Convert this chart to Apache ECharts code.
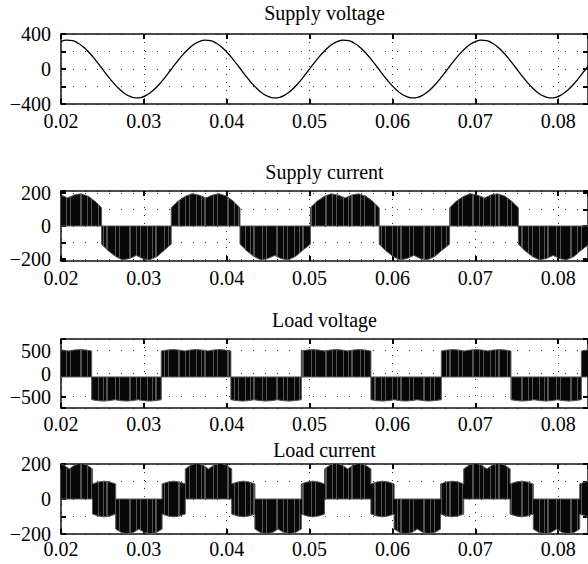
<!DOCTYPE html>
<html lang="en">
<head>
<meta charset="UTF-8">
<title>Supply and load waveforms</title>
<script src="https://cdn.jsdelivr.net/npm/echarts@6/dist/echarts.min.js"></script>
<style>html,body{margin:0;padding:0;background:#fff;}</style>
</head>
<body>
<div id="main" style="width:588px;height:564px;"></div>
<script type="text/javascript">
// x range of every panel (time, s)
var tMin = 0.02, tMax = 0.0836;

// supply voltage, sampled every 1/1440 s from t = 0.02
var vStep = 1 / 1440;
var supplyVoltage = [314, 330, 323, 294, 245, 180, 102, 17, -69, -150, -221, -277, -314, -330, -323, -294, -245, -180, -102, -17, 69, 150, 221, 277,
    314, 330, 323, 294, 245, 180, 102, 17, -69, -150, -221, -277, -314, -330, -323, -294, -245, -180, -102, -17, 69, 150, 221, 277,
    314, 330, 323, 294, 245, 180, 102, 17, -69, -150, -221, -277, -314, -330, -323, -294, -245, -180, -102, -17, 69, 150, 221, 277,
    314, 330, 323, 294, 245, 180, 102, 17, -69, -150, -221, -277, -314, -330, -323, -294, -245, -180, -102, -17, 69];

// supply current envelope: positive part and negative part  [t, A]
var supplyCurrentPos = [
    [0.0200, 188], [0.0208, 170], [0.0216, 188], [0.0224, 195], [0.0233, 180], [0.0241, 150], [0.0249, 110], [0.0249, 0],
    [0.0333, 0], [0.0333, 110], [0.0341, 150], [0.0350, 180], [0.0358, 195], [0.0366, 188], [0.0375, 170], [0.0383, 188], [0.0391, 195], [0.0400, 180], [0.0408, 150], [0.0416, 110], [0.0416, 0],
    [0.0501, 0], [0.0501, 110], [0.0509, 150], [0.0518, 180], [0.0526, 195], [0.0534, 188], [0.0543, 170], [0.0551, 188], [0.0559, 195], [0.0568, 180], [0.0576, 150], [0.0584, 110], [0.0584, 0],
    [0.0669, 0], [0.0669, 110], [0.0677, 150], [0.0686, 180], [0.0694, 195], [0.0702, 188], [0.0711, 170], [0.0719, 188], [0.0727, 195], [0.0736, 180], [0.0744, 150], [0.0752, 110], [0.0752, 0],
    [0.0836, 0]
];
var supplyCurrentNeg = [
    [0.0200, 0], [0.0249, 0], [0.0249, -110], [0.0257, -150], [0.0266, -185], [0.0274, -205], [0.0282, -198], [0.0291, -178], [0.0299, -198], [0.0307, -205], [0.0316, -185], [0.0324, -150], [0.0333, -110], [0.0333, 0],
    [0.0416, 0], [0.0416, -110], [0.0424, -150], [0.0433, -185], [0.0441, -205], [0.0449, -198], [0.0458, -178], [0.0466, -198], [0.0474, -205], [0.0483, -185], [0.0491, -150], [0.0501, -110], [0.0501, 0],
    [0.0584, 0], [0.0584, -110], [0.0592, -150], [0.0601, -185], [0.0609, -205], [0.0617, -198], [0.0626, -178], [0.0634, -198], [0.0642, -205], [0.0651, -185], [0.0659, -150], [0.0669, -110], [0.0669, 0],
    [0.0752, 0], [0.0752, -110], [0.0760, -150], [0.0769, -185], [0.0777, -205], [0.0785, -198], [0.0794, -178], [0.0802, -198], [0.0810, -205], [0.0819, -185], [0.0827, -150], [0.0836, -115]
];

// load voltage envelope [t, V]; the blocks switch about a base of -75 V
var loadVoltageBase = -75;
var loadVoltagePos = [
    [0.0200, 515], [0.0202, 510], [0.0209, 490], [0.0216, 510], [0.0223, 520], [0.0230, 510], [0.0237, 490], [0.0237, -75],
    [0.0321, -75], [0.0321, 490], [0.0328, 510], [0.0335, 520], [0.0342, 510], [0.0349, 490], [0.0356, 510], [0.0363, 520], [0.0370, 510], [0.0377, 490], [0.0384, 510], [0.0391, 520], [0.0398, 510], [0.0405, 490], [0.0405, -75],
    [0.0490, -75], [0.0490, 490], [0.0497, 510], [0.0504, 520], [0.0511, 510], [0.0518, 490], [0.0525, 510], [0.0532, 520], [0.0539, 510], [0.0546, 490], [0.0553, 510], [0.0560, 520], [0.0567, 510], [0.0574, 490], [0.0574, -75],
    [0.0659, -75], [0.0659, 490], [0.0666, 510], [0.0673, 520], [0.0680, 510], [0.0687, 490], [0.0694, 510], [0.0701, 520], [0.0708, 510], [0.0715, 490], [0.0722, 510], [0.0729, 520], [0.0736, 510], [0.0743, 490], [0.0743, -75],
    [0.0828, -75], [0.0828, 490], [0.0835, 510], [0.0842, 520]
];
var loadVoltageNeg = [
    [0.0200, -75], [0.0237, -75], [0.0237, -570], [0.0244, -590], [0.0251, -600], [0.0258, -590], [0.0265, -570], [0.0272, -590], [0.0279, -600], [0.0286, -590], [0.0293, -570], [0.0300, -590], [0.0307, -600], [0.0314, -590], [0.0321, -570], [0.0321, -75],
    [0.0405, -75], [0.0405, -570], [0.0412, -590], [0.0419, -600], [0.0426, -590], [0.0433, -570], [0.0440, -590], [0.0447, -600], [0.0454, -590], [0.0461, -570], [0.0468, -590], [0.0475, -600], [0.0482, -590], [0.0490, -570], [0.0490, -75],
    [0.0574, -75], [0.0574, -570], [0.0581, -590], [0.0588, -600], [0.0595, -590], [0.0602, -570], [0.0609, -590], [0.0616, -600], [0.0623, -590], [0.0630, -570], [0.0637, -590], [0.0644, -600], [0.0651, -590], [0.0659, -570], [0.0659, -75],
    [0.0743, -75], [0.0743, -570], [0.0750, -590], [0.0757, -600], [0.0764, -590], [0.0771, -570], [0.0778, -590], [0.0785, -600], [0.0792, -590], [0.0799, -570], [0.0806, -590], [0.0813, -600], [0.0820, -590], [0.0828, -570], [0.0828, -75],
    [0.0836, -75]
];

// load current envelope [t, A]
var loadCurrentPos = [
    [0.0200, 200], [0.0203, 195], [0.0210, 172], [0.0217, 195], [0.0224, 205], [0.0231, 195], [0.0238, 172],
    [0.0238, 86], [0.0245, 97], [0.0252, 102], [0.0259, 97], [0.0266, 86], [0.0266, 0],
    [0.0322, 0], [0.0322, 86], [0.0329, 97], [0.0336, 102], [0.0343, 97], [0.0350, 86],
    [0.0350, 172], [0.0357, 195], [0.0364, 205], [0.0371, 195], [0.0378, 172], [0.0385, 195], [0.0392, 205], [0.0399, 195], [0.0406, 172],
    [0.0406, 86], [0.0413, 97], [0.0420, 102], [0.0427, 97], [0.0434, 86], [0.0434, 0],
    [0.0490, 0], [0.0490, 86], [0.0497, 97], [0.0504, 102], [0.0511, 97], [0.0518, 86],
    [0.0518, 172], [0.0525, 195], [0.0532, 205], [0.0539, 195], [0.0546, 172], [0.0553, 195], [0.0560, 205], [0.0567, 195], [0.0574, 172],
    [0.0574, 86], [0.0581, 97], [0.0588, 102], [0.0595, 97], [0.0602, 86], [0.0602, 0],
    [0.0658, 0], [0.0658, 86], [0.0665, 97], [0.0672, 102], [0.0679, 97], [0.0686, 86],
    [0.0686, 172], [0.0693, 195], [0.0700, 205], [0.0707, 195], [0.0714, 172], [0.0721, 195], [0.0728, 205], [0.0735, 195], [0.0742, 172],
    [0.0742, 86], [0.0749, 97], [0.0756, 102], [0.0763, 97], [0.0770, 86], [0.0770, 0],
    [0.0826, 0], [0.0826, 86], [0.0833, 97], [0.0840, 102]
];
var loadCurrentNeg = [
    [0.0200, 0], [0.0238, 0], [0.0238, -86], [0.0245, -97], [0.0252, -102], [0.0259, -97], [0.0266, -86],
    [0.0266, -172], [0.0273, -192], [0.0280, -198], [0.0287, -192], [0.0294, -172], [0.0301, -192], [0.0308, -198], [0.0315, -192], [0.0322, -172],
    [0.0322, -86], [0.0329, -97], [0.0336, -102], [0.0343, -97], [0.0350, -86], [0.0350, 0],
    [0.0406, 0], [0.0406, -86], [0.0413, -97], [0.0420, -102], [0.0427, -97], [0.0434, -86],
    [0.0434, -172], [0.0441, -192], [0.0448, -198], [0.0455, -192], [0.0462, -172], [0.0469, -192], [0.0476, -198], [0.0483, -192], [0.0490, -172],
    [0.0490, -86], [0.0497, -97], [0.0504, -102], [0.0511, -97], [0.0518, -86], [0.0518, 0],
    [0.0574, 0], [0.0574, -86], [0.0581, -97], [0.0588, -102], [0.0595, -97], [0.0602, -86],
    [0.0602, -172], [0.0609, -192], [0.0616, -198], [0.0623, -192], [0.0630, -172], [0.0637, -192], [0.0644, -198], [0.0651, -192], [0.0658, -172],
    [0.0658, -86], [0.0665, -97], [0.0672, -102], [0.0679, -97], [0.0686, -86], [0.0686, 0],
    [0.0742, 0], [0.0742, -86], [0.0749, -97], [0.0756, -102], [0.0763, -97], [0.0770, -86],
    [0.0770, -172], [0.0777, -192], [0.0784, -198], [0.0791, -192], [0.0798, -172], [0.0805, -192], [0.0812, -198], [0.0819, -192], [0.0826, -172],
    [0.0826, -86], [0.0833, -97], [0.0840, -102]
];

var titles = ['Supply voltage', 'Supply current', 'Load voltage', 'Load current'];
var yLabels = [[-400, 0, 400], [-200, 0, 200], [-500, 0, 500], [-200, 0, 200]];

// panel layout (px)
var panels = [
    {top: 34, height: 70, min: -400, max: 400, split: 4, titleY: 13, xMargin: 7},
    {top: 191, height: 70, min: -212, max: 212, split: 4, titleY: 172, xMargin: 7},
    {top: 339, height: 69, min: -750, max: 750, split: 3, titleY: 320, xMargin: 6},
    {top: 464, height: 70, min: -200, max: 200, split: 4, titleY: 450, xMargin: 5}
];

var font = '"Liberation Serif", "DejaVu Serif", serif';
var grids = [], xAxes = [], yAxes = [], series = [], graphics = [];

panels.forEach(function (p, i) {
    grids.push({left: 61, width: 527, top: p.top, height: p.height});
    var tick = {show: true, inside: true, length: 5, lineStyle: {color: '#000', width: 2}};
    var line = {show: true, onZero: false, lineStyle: {color: '#111', width: 1.5}};
    xAxes.push({
        type: 'value', gridIndex: i, min: tMin, max: tMax, interval: 0.01, position: 'bottom',
        axisLine: line, axisTick: tick,
        axisLabel: {
            margin: p.xMargin, color: '#000', fontFamily: font, fontSize: 20,
            formatter: function (v) { return v.toFixed(2); }
        },
        splitLine: {show: true, lineStyle: {color: '#333', width: 1, type: [1, 7]}}
    });
    xAxes.push({
        type: 'value', gridIndex: i, min: tMin, max: tMax, interval: 0.01, position: 'top',
        axisLine: line, axisTick: tick, axisLabel: {show: false}, splitLine: {show: false}
    });
    var labs = yLabels[i];
    var yBase = {type: 'value', gridIndex: i, min: p.min, max: p.max, splitNumber: p.split};
    if (i === 0 || i === 3) yBase.interval = (p.max - p.min) / p.split;
    yAxes.push(Object.assign({}, yBase, {
        position: 'left', axisLine: line, axisTick: tick,
        axisLabel: {
            margin: 10, color: '#000', fontFamily: font, fontSize: 20,
            formatter: function (v) {
                var r = Math.round(v);
                if (Math.abs(v - r) > 1e-6 || labs.indexOf(r) < 0) return '';
                return r < 0 ? '\u2212' + (-r) : String(r);
            }
        },
        splitLine: {show: true, lineStyle: {color: '#333', width: 1, type: [1, 11]}}
    }));
    yAxes.push(Object.assign({}, yBase, {
        position: 'right', axisLine: line, axisTick: tick, axisLabel: {show: false}, splitLine: {show: false}
    }));
    graphics.push({
        type: 'text', x: 324.5, y: p.titleY,
        style: {
            text: titles[i], fill: '#000', font: '20px ' + font,
            align: 'center', verticalAlign: 'middle', textAlign: 'center', textVerticalAlign: 'middle'
        }
    });
});

// switching gaps show as thin light stripes in the filled blocks
var stripes = {
    symbol: 'rect', symbolSize: 1, rotation: 0,
    dashArrayX: [[1, 4, 1, 2, 2, 7, 1, 3, 1, 9, 2, 5, 1, 3, 1, 6]], dashArrayY: [10, 0],
    color: 'rgba(255,255,255,0.3)'
};

function areaSeries(idx, data, base) {
    return {
        type: 'line', xAxisIndex: idx * 2, yAxisIndex: idx * 2, data: data,
        showSymbol: false, symbol: 'none', animation: false,
        itemStyle: {color: '#000', decal: stripes},
        lineStyle: {color: '#555', width: 1},
        areaStyle: {color: '#080808', opacity: 1, origin: base}
    };
}

var vData = supplyVoltage.map(function (v, k) { return [tMin + k * vStep, v]; });
series.push({
    type: 'line', xAxisIndex: 0, yAxisIndex: 0, data: vData, smooth: true,
    showSymbol: false, symbol: 'none', animation: false,
    lineStyle: {color: '#000', width: 1.3}
});
series.push(areaSeries(1, supplyCurrentPos, 0));
series.push(areaSeries(1, supplyCurrentNeg, 0));
series.push(areaSeries(2, loadVoltagePos, loadVoltageBase));
series.push(areaSeries(2, loadVoltageNeg, loadVoltageBase));
series.push(areaSeries(3, loadCurrentPos, 0));
series.push(areaSeries(3, loadCurrentNeg, 0));

var myChart = echarts.init(document.getElementById('main'), null, {renderer: 'svg'});
myChart.setOption({
    animation: false,
    backgroundColor: '#fff',
    grid: grids,
    xAxis: xAxes,
    yAxis: yAxes,
    graphic: graphics,
    series: series
});
</script>
</body>
</html>
